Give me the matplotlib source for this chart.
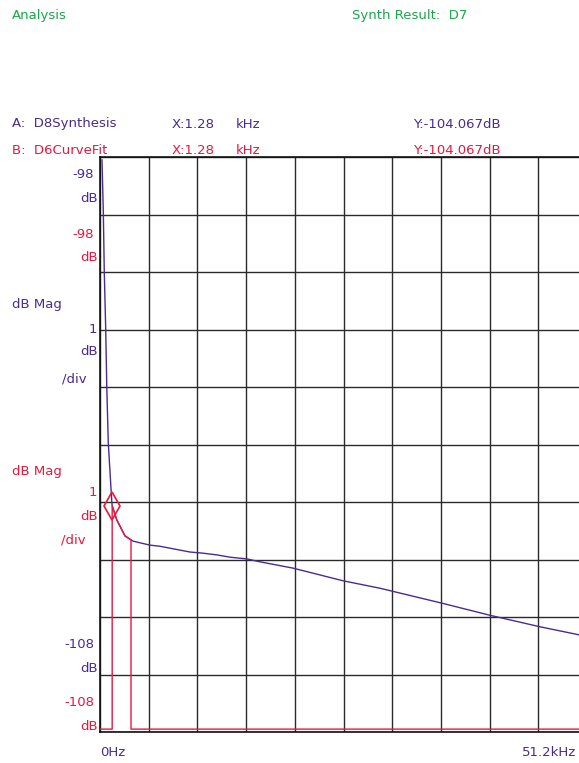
import numpy as np
import matplotlib
matplotlib.use('Agg')
import matplotlib.pyplot as plt

W, H = 579, 763

# trace A: D8Synthesis (kHz, dB)
freq_a = [0.21, 0.35, 0.45, 0.60, 0.71, 0.87, 1.23, 1.28, 1.76, 2.63, 3.47,
          4.21, 5.26, 6.31, 7.88, 9.46, 10.83, 12.30, 13.67, 15.45, 16.82,
          20.29, 25.55, 29.44, 35.96, 41.00, 46.26, 50.36, 51.20]
mag_a = [-98.05, -98.97, -100.00, -100.99, -101.98, -102.97, -103.97, -104.067,
         -104.31, -104.59, -104.68, -104.71, -104.75, -104.77, -104.82, -104.87,
         -104.89, -104.92, -104.96, -104.99, -105.04, -105.15, -105.37, -105.50,
         -105.76, -105.97, -106.17, -106.31, -106.33]

# trace B: D6CurveFit
freq_b = [0.0, 1.28, 1.28, 1.76, 2.63, 3.26, 3.26, 51.2]
mag_b = [-107.95, -107.95, -104.067, -104.31, -104.59, -104.66, -107.95, -107.95]

marker_x, marker_y = 1.28, -104.067

x_span = 51.2
y_top, y_bot = -98, -108

purple = '#4a2a94'
red = '#e8173e'
green = '#19a84a'
font = 'DejaVu Sans'


def fx(px):
    return px / W


def fy(py):
    return 1 - py / H


fig = plt.figure(figsize=(W / 100, H / 100), dpi=100)

# plot area: 10 x 10 divisions, right side runs off the picture
ax = fig.add_axes([fx(100), fy(732), 487 / W, 575 / H])
ax.set_xlim(0, x_span)
ax.set_ylim(y_bot, y_top)
ax.set_xticks(np.linspace(0, x_span, 11))
ax.set_yticks(np.linspace(y_bot, y_top, 11))
ax.tick_params(length=0, labelleft=False, labelbottom=False)
ax.grid(True, color='#2a2a2a', lw=1.0)
for s in ax.spines.values():
    s.set_color('#111111')
    s.set_linewidth(1.2)

ax.plot(freq_a, mag_a, color=purple, lw=1.0, zorder=3)
ax.plot(freq_b, mag_b, color=red, lw=1.0, zorder=4)
ax.plot([marker_x], [marker_y], marker='d', ms=14, mfc='none',
        mec=red, mew=1.2, zorder=5, clip_on=False)

fs = 9.5


def label(px, py, s, color, ha='left'):
    fig.text(fx(px), fy(py), s, color=color, fontsize=fs, ha=ha,
             va='center', family=font)


label(12, 16, 'Analysis', green)
label(352, 16, 'Synth Result:  D7', green)

label(12, 124, 'A:  D8Synthesis', purple)
label(172, 124, 'X:1.28', purple)
label(236, 124, 'kHz', purple)
label(413, 124, 'Y:-104.067dB', purple)

label(12, 150, 'B:  D6CurveFit', red)
label(172, 150, 'X:1.28', red)
label(236, 150, 'kHz', red)
label(413, 150, 'Y:-104.067dB', red)

label(94, 175, '-98', purple, 'right')
label(98, 199, 'dB', purple, 'right')
label(94, 234, '-98', red, 'right')
label(98, 258, 'dB', red, 'right')

label(12, 305, 'dB Mag', purple)
label(97, 329, '1', purple, 'right')
label(98, 352, 'dB', purple, 'right')
label(62, 379, '/div', purple)

label(12, 471, 'dB Mag', red)
label(97, 492, '1', red, 'right')
label(98, 517, 'dB', red, 'right')
label(61, 540, '/div', red)

label(94, 645, '-108', purple, 'right')
label(98, 668, 'dB', purple, 'right')
label(94, 703, '-108', red, 'right')
label(98, 727, 'dB', red, 'right')

label(100, 753, '0Hz', purple)
label(576, 753, '51.2kHz', purple, 'right')

fig.savefig('out.png', dpi=100)
